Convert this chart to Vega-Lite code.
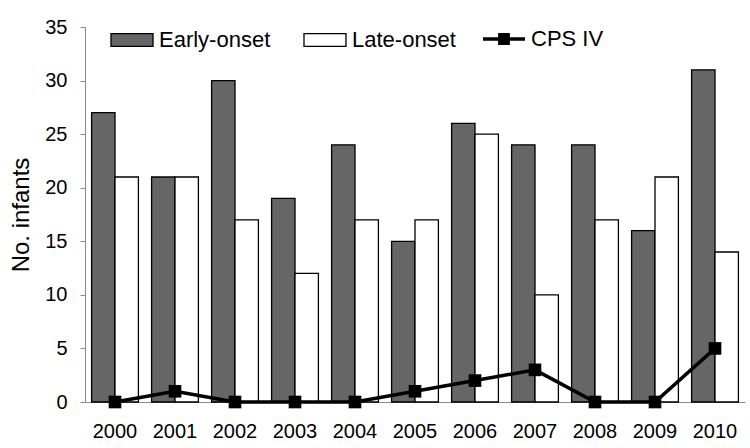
{
  "$schema": "https://vega.github.io/schema/vega-lite/v6.json",
  "width": 660,
  "height": 375,
  "autosize": {"type": "none"},
  "padding": {"left": 85, "top": 27, "right": 5, "bottom": 46},
  "background": "white",
  "datasets": {
    "bars": [
      {"year": "2000", "onset": "Early-onset", "n": 27},
      {"year": "2000", "onset": "Late-onset", "n": 21},
      {"year": "2001", "onset": "Early-onset", "n": 21},
      {"year": "2001", "onset": "Late-onset", "n": 21},
      {"year": "2002", "onset": "Early-onset", "n": 30},
      {"year": "2002", "onset": "Late-onset", "n": 17},
      {"year": "2003", "onset": "Early-onset", "n": 19},
      {"year": "2003", "onset": "Late-onset", "n": 12},
      {"year": "2004", "onset": "Early-onset", "n": 24},
      {"year": "2004", "onset": "Late-onset", "n": 17},
      {"year": "2005", "onset": "Early-onset", "n": 15},
      {"year": "2005", "onset": "Late-onset", "n": 17},
      {"year": "2006", "onset": "Early-onset", "n": 26},
      {"year": "2006", "onset": "Late-onset", "n": 25},
      {"year": "2007", "onset": "Early-onset", "n": 24},
      {"year": "2007", "onset": "Late-onset", "n": 10},
      {"year": "2008", "onset": "Early-onset", "n": 24},
      {"year": "2008", "onset": "Late-onset", "n": 17},
      {"year": "2009", "onset": "Early-onset", "n": 16},
      {"year": "2009", "onset": "Late-onset", "n": 21},
      {"year": "2010", "onset": "Early-onset", "n": 31},
      {"year": "2010", "onset": "Late-onset", "n": 14}
    ],
    "cps": [
      {"year": "2000", "n": 0},
      {"year": "2001", "n": 1},
      {"year": "2002", "n": 0},
      {"year": "2003", "n": 0},
      {"year": "2004", "n": 0},
      {"year": "2005", "n": 1},
      {"year": "2006", "n": 2},
      {"year": "2007", "n": 3},
      {"year": "2008", "n": 0},
      {"year": "2009", "n": 0},
      {"year": "2010", "n": 5}
    ]
  },
  "config": {
    "view": {"stroke": null},
    "font": "Liberation Sans",
    "axis": {
      "labelColor": "black",
      "titleColor": "black",
      "domainColor": "#8a8a8a",
      "tickColor": "#8a8a8a",
      "grid": false,
      "labelFont": "Liberation Sans",
      "titleFont": "Liberation Sans"
    },
    "legend": {
      "labelFont": "Liberation Sans",
      "labelColor": "black",
      "labelFontSize": 22,
      "padding": 0
    }
  },
  "layer": [
    {
      "data": {"name": "bars"},
      "mark": {"type": "bar", "stroke": "black", "strokeWidth": 1.3},
      "encoding": {
        "x": {
          "field": "year",
          "type": "nominal",
          "scale": {"paddingInner": 0.22, "paddingOuter": 0.11},
          "axis": {
            "title": null,
            "labelAngle": 0,
            "ticks": false,
            "labelFontSize": 20,
            "labelPadding": 19
          }
        },
        "xOffset": {"field": "onset", "sort": ["Early-onset", "Late-onset"]},
        "y": {
          "field": "n",
          "type": "quantitative",
          "scale": {"domain": [0, 35], "nice": false},
          "axis": {
            "title": "No. infants",
            "values": [0, 5, 10, 15, 20, 25, 30, 35],
            "labelFontSize": 20,
            "titleFontSize": 24,
            "titleFontWeight": "normal",
            "tickSize": 5,
            "labelPadding": 13,
            "titlePadding": 11
          }
        },
        "fill": {
          "field": "onset",
          "type": "nominal",
          "scale": {"domain": ["Early-onset", "Late-onset"], "range": ["#666666", "#ffffff"]},
          "legend": {
            "title": null,
            "orient": "none",
            "direction": "horizontal",
            "legendX": 25,
            "legendY": -9,
            "symbolType": "M-1,-0.3H1V0.3H-1Z",
            "symbolSize": 1764,
            "symbolStrokeColor": "black",
            "symbolStrokeWidth": 1.3,
            "symbolOpacity": 1,
            "labelOffset": 5,
            "columnPadding": 30
          }
        }
      }
    },
    {
      "data": {"name": "cps"},
      "mark": {"type": "line", "strokeWidth": 3.5},
      "encoding": {
        "x": {"field": "year", "type": "nominal"},
        "y": {"field": "n", "type": "quantitative"},
        "stroke": {
          "datum": "CPS IV",
          "type": "nominal",
          "scale": {"domain": ["CPS IV"], "range": ["black"]},
          "legend": {
            "title": null,
            "orient": "none",
            "legendX": 398,
            "legendY": -9,
            "symbolType": "M-1,-0.08H1V0.08H-1Z M-0.28,-0.28H0.28V0.28H-0.28Z",
            "symbolSize": 1764,
            "labelOffset": 6,
            "encode": {
              "symbols": {
                "update": {
                  "fill": {"value": "black"},
                  "stroke": {"value": "black"},
                  "strokeWidth": {"value": 0},
                  "opacity": {"value": 1}
                }
              }
            }
          }
        }
      }
    },
    {
      "data": {"name": "cps"},
      "mark": {"type": "point", "shape": "square", "filled": true, "color": "black", "size": 160, "opacity": 1},
      "encoding": {
        "x": {"field": "year", "type": "nominal"},
        "y": {"field": "n", "type": "quantitative"}
      }
    }
  ]
}
